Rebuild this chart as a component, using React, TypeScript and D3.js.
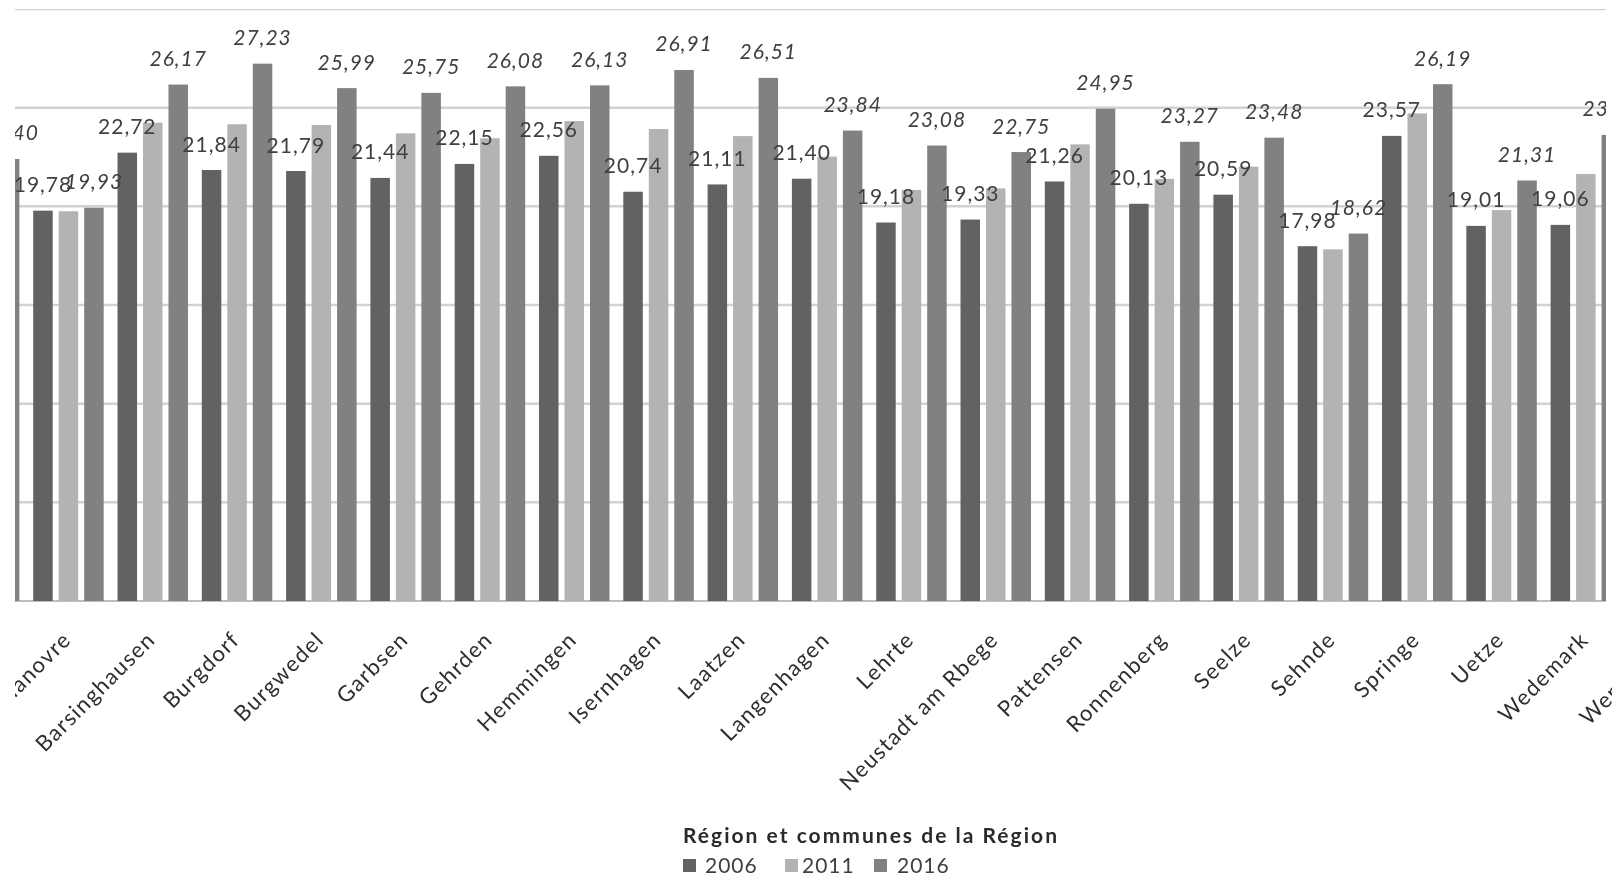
import React from "react";
import * as d3 from "d3";

// Communes of the Hannover region (the first and last ones fall outside the visible window)
const communes = [
  "Région Hannover",
  "Hanovre",
  "Barsinghausen",
  "Burgdorf",
  "Burgwedel",
  "Garbsen",
  "Gehrden",
  "Hemmingen",
  "Isernhagen",
  "Laatzen",
  "Langenhagen",
  "Lehrte",
  "Neustadt am Rbege",
  "Pattensen",
  "Ronnenberg",
  "Seelze",
  "Sehnde",
  "Springe",
  "Uetze",
  "Wedemark",
  "Wennigsen",
  "Wunstorf",
];

const years = ["2006", "2011", "2016"];

const values2006: (number | null)[] = [
  null, 19.78, 22.72, 21.84, 21.79, 21.44, 22.15, 22.56, 20.74, 21.11, 21.4,
  19.18, 19.33, 21.26, 20.13, 20.59, 17.98, 23.57, 19.01, 19.06, null, null,
];
const values2011: (number | null)[] = [
  null, 19.75, 24.24, 24.16, 24.12, 23.7, 23.45, 24.32, 23.92, 23.56, 22.52,
  20.83, 20.91, 23.14, 21.39, 22.01, 17.82, 24.71, 19.81, 21.64, null, null,
];
const values2016: (number | null)[] = [
  22.4, 19.93, 26.17, 27.23, 25.99, 25.75, 26.08, 26.13, 26.91, 26.51, 23.84,
  23.08, 22.75, 24.95, 23.27, 23.48, 18.62, 26.19, 21.31, 23.62, null, null,
];

const yTicks = [0, 5, 10, 15, 20, 25, 30];

const seriesValues: Record<string, (number | null)[]> = {
  "2006": values2006,
  "2011": values2011,
  "2016": values2016,
};

const colors: Record<string, string> = {
  "2006": "#626262",
  "2011": "#b3b3b3",
  "2016": "#818181",
};

// only 2006 (upright) and 2016 (italic) carry value labels
const labelStyle: Record<string, string | null> = {
  "2006": "normal",
  "2011": null,
  "2016": "italic",
};

const W = 1612;
const H = 896;
const FONT = "Lato, 'Open Sans', sans-serif";

export default function App() {
  const x0 = d3.scaleBand<string>().domain(communes).range([-58, 1796.6]).padding(0);
  const bw = x0.bandwidth();
  const x1 = d3
    .scaleBand<string>()
    .domain(years)
    .range([bw * 0.082, bw * 0.918])
    .paddingInner(0.235);
  const y = d3.scaleLinear().domain([0, 30]).range([601, 9]);

  const fmt = (v: number) => d3.format(".2f")(v).replace(".", ",");

  const legendItems = [
    { year: "2006", x: 683, tx: 705 },
    { year: "2011", x: 785, tx: 802 },
    { year: "2016", x: 874, tx: 897 },
  ];

  return (
    <div style={{ position: "absolute", left: 0, top: 0, width: W, height: H, background: "#fff" }}>
      <svg width={W} height={H} style={{ display: "block" }} fontFamily={FONT}>
        <defs>
          <clipPath id="plotClip">
            <rect x={15} y={0} width={1606 - 15} height={H} />
          </clipPath>
          <clipPath id="labelClip">
            <rect x={15} y={0} width={W - 15} height={H} />
          </clipPath>
          <filter id="soft" x="0" y="0" width="100%" height="100%">
            <feGaussianBlur stdDeviation={0.45} />
          </filter>
        </defs>
        <rect x={0} y={0} width={W} height={H} fill="#fff" />

        <g filter="url(#soft)">
          <g clipPath="url(#plotClip)">
            {yTicks.map((t) => (
              <line
                key={t}
                x1={x0.range()[0]}
                x2={x0.range()[1]}
                y1={y(t)}
                y2={y(t)}
                stroke={t === 0 ? "#bdbdbd" : "#d2d2d2"}
                strokeWidth={t === 0 ? 2 : 2.5}
              />
            ))}

            {communes.map((c, i) => (
              <g key={c} transform={`translate(${x0(c)},0)`}>
                {years.map((yr) => {
                  const v = seriesValues[yr][i];
                  if (v == null) return null;
                  return (
                    <rect
                      key={yr}
                      x={x1(yr)}
                      y={y(v)}
                      width={x1.bandwidth()}
                      height={y(0) - y(v)}
                      fill={colors[yr]}
                    />
                  );
                })}
              </g>
            ))}

            {communes.map((c, i) => (
              <g key={c + "-lbl"} transform={`translate(${x0(c)},0)`}>
                {years.map((yr) => {
                  const v = seriesValues[yr][i];
                  const st = labelStyle[yr];
                  if (v == null || st == null) return null;
                  return (
                    <text
                      key={yr}
                      x={(x1(yr) as number) + x1.bandwidth() / 2}
                      y={y(v) - 18.5}
                      textAnchor="middle"
                      fontSize={21}
                      fontStyle={st}
                      letterSpacing={1}
                      fill="#3f3f3f"
                    >
                      {fmt(v)}
                    </text>
                  );
                })}
              </g>
            ))}
          </g>

          <g clipPath="url(#labelClip)">
            {communes.map((c) => {
              const cx = (x0(c) as number) + bw / 2;
              return (
                <text
                  key={c + "-cat"}
                  transform={`translate(${cx + 4},641) rotate(-45)`}
                  textAnchor="end"
                  fontSize={22}
                  letterSpacing={1.4}
                  fill="#2e2e2e"
                >
                  {c === "Région Hannover" ? "" : c}
                </text>
              );
            })}
          </g>

          <text x={683} y={843} fontSize={21} fontWeight="bold" fill="#2b2b2b" textLength={374} lengthAdjust="spacing">
            Région et communes de la Région
          </text>
          {legendItems.map((it) => (
            <g key={it.year}>
              <rect x={it.x} y={859} width={13} height={13} fill={colors[it.year]} />
              <text x={it.tx} y={873} fontSize={21} letterSpacing={1} fill="#404040">
                {it.year}
              </text>
            </g>
          ))}
        </g>
      </svg>
    </div>
  );
}
